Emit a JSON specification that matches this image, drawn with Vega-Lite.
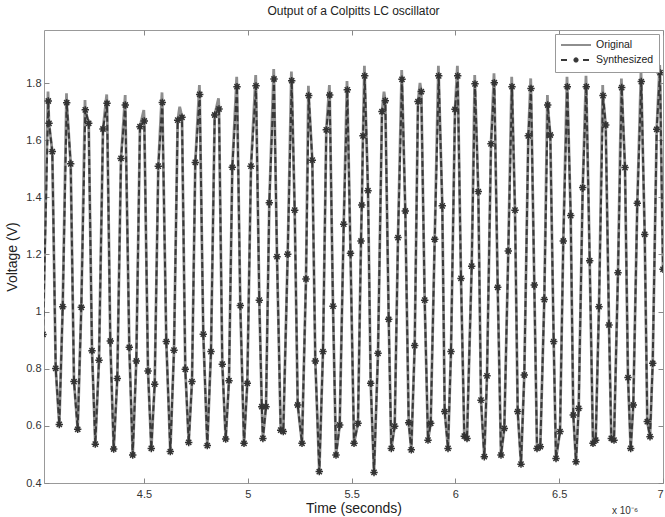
{
"$schema": "https://vega.github.io/schema/vega-lite/v6.json",
"width": 619, "height": 453,
"autosize": {"type": "none"},
"padding": {"left": 44, "top": 30, "right": 2, "bottom": 34},
"background": "white",
"title": {"text": "Output of a Colpitts LC oscillator", "fontSize": 12, "fontWeight": "normal", "color": "#222", "offset": 12, "font": "Liberation Sans"},
"config": {
 "view": {"stroke": "#999", "strokeWidth": 1},
 "font": "Liberation Sans",
 "axis": {"grid": false, "domain": false, "tickColor": "#888", "tickSize": -5, "tickWidth": 1, "labelFontSize": 11, "labelColor": "#333", "labelFont": "Liberation Sans", "titleFont": "Liberation Sans", "titleFontSize": 14, "titleFontWeight": "normal", "titleColor": "#222"}
},
"datasets": {
"synth": [
{"t":4.0135,"v":0.92},{"t":4.0390,"v":1.737},{"t":4.0424,"v":1.659},{"t":4.0583,"v":1.560},{"t":4.0747,"v":0.801},{"t":4.0920,"v":0.605},{"t":4.1084,"v":1.017},{"t":4.1277,"v":1.731},{"t":4.1469,"v":1.517},{"t":4.1628,"v":0.755},{"t":4.1806,"v":0.588},{"t":4.1980,"v":1.015},{"t":4.2172,"v":1.706},{"t":4.2336,"v":1.659},{"t":4.2495,"v":0.863},{"t":4.2654,"v":0.536},{"t":4.2832,"v":0.830},{"t":4.3025,"v":1.639},{"t":4.3218,"v":1.729},{"t":4.3377,"v":0.897},{"t":4.3540,"v":0.519},{"t":4.3714,"v":0.766},{"t":4.3892,"v":1.536},{"t":4.4099,"v":1.723},{"t":4.4292,"v":0.875},{"t":4.4456,"v":0.498},{"t":4.4629,"v":0.827},{"t":4.4807,"v":1.647},{"t":4.5014,"v":1.667},{"t":4.5193,"v":0.792},{"t":4.5352,"v":0.521},{"t":4.5515,"v":0.746},{"t":4.5689,"v":1.509},{"t":4.5882,"v":1.732},{"t":4.6074,"v":0.895},{"t":4.6267,"v":0.510},{"t":4.6445,"v":0.865},{"t":4.6623,"v":1.670},{"t":4.6830,"v":1.680},{"t":4.6989,"v":0.798},{"t":4.7153,"v":0.542},{"t":4.7312,"v":0.755},{"t":4.7471,"v":1.522},{"t":4.7683,"v":1.760},{"t":4.7856,"v":0.921},{"t":4.8049,"v":0.531},{"t":4.8227,"v":0.860},{"t":4.8406,"v":1.688},{"t":4.8613,"v":1.709},{"t":4.8772,"v":0.816},{"t":4.8935,"v":0.554},{"t":4.9094,"v":0.758},{"t":4.9253,"v":1.505},{"t":4.9480,"v":1.787},{"t":4.9639,"v":1.021},{"t":4.9817,"v":0.539},{"t":4.9976,"v":0.749},{"t":5.0154,"v":1.509},{"t":5.0395,"v":1.790},{"t":5.0554,"v":1.040},{"t":5.0674,"v":0.667},{"t":5.0727,"v":0.556},{"t":5.0877,"v":0.667},{"t":5.1036,"v":1.381},{"t":5.1262,"v":1.814},{"t":5.1407,"v":1.192},{"t":5.1585,"v":0.585},{"t":5.1710,"v":0.580},{"t":5.1922,"v":1.201},{"t":5.2115,"v":1.808},{"t":5.2259,"v":1.355},{"t":5.2404,"v":0.673},{"t":5.2611,"v":0.539},{"t":5.2803,"v":1.114},{"t":5.2934,"v":1.756},{"t":5.3107,"v":1.530},{"t":5.3252,"v":0.827},{"t":5.3444,"v":0.440},{"t":5.3622,"v":0.860},{"t":5.3781,"v":1.636},{"t":5.3945,"v":1.758},{"t":5.4104,"v":1.019},{"t":5.4249,"v":0.498},{"t":5.4427,"v":0.603},{"t":5.4620,"v":1.306},{"t":5.4793,"v":1.776},{"t":5.4947,"v":1.204},{"t":5.5116,"v":0.539},{"t":5.5308,"v":0.609},{"t":5.5453,"v":1.247},{"t":5.5491,"v":1.373},{"t":5.5549,"v":1.615},{"t":5.5631,"v":1.825},{"t":5.5790,"v":1.423},{"t":5.5920,"v":0.749},{"t":5.6079,"v":0.437},{"t":5.6272,"v":0.854},{"t":5.6464,"v":1.700},{"t":5.6623,"v":1.738},{"t":5.6787,"v":0.973},{"t":5.6912,"v":0.521},{"t":5.7076,"v":0.599},{"t":5.7235,"v":1.259},{"t":5.7428,"v":1.813},{"t":5.7587,"v":1.352},{"t":5.7750,"v":0.611},{"t":5.7876,"v":0.516},{"t":5.8039,"v":0.881},{"t":5.8198,"v":1.735},{"t":5.8357,"v":1.770},{"t":5.8521,"v":1.040},{"t":5.8680,"v":0.550},{"t":5.8810,"v":0.609},{"t":5.9003,"v":1.253},{"t":5.9196,"v":1.825},{"t":5.9369,"v":1.370},{"t":5.9485,"v":0.650},{"t":5.9644,"v":0.521},{"t":5.9788,"v":0.860},{"t":5.9981,"v":1.708},{"t":6.0111,"v":1.825},{"t":6.0270,"v":1.116},{"t":6.0429,"v":0.564},{"t":6.0559,"v":0.556},{"t":6.0785,"v":1.159},{"t":6.0944,"v":1.797},{"t":6.1103,"v":1.420},{"t":6.1233,"v":0.690},{"t":6.1392,"v":0.492},{"t":6.1522,"v":0.775},{"t":6.1715,"v":1.587},{"t":6.1874,"v":1.801},{"t":6.2038,"v":1.085},{"t":6.2197,"v":0.498},{"t":6.2356,"v":0.591},{"t":6.2548,"v":1.212},{"t":6.2726,"v":1.787},{"t":6.2871,"v":1.355},{"t":6.3001,"v":0.650},{"t":6.3160,"v":0.466},{"t":6.3319,"v":0.778},{"t":6.3512,"v":1.615},{"t":6.3642,"v":1.781},{"t":6.3801,"v":1.093},{"t":6.3931,"v":0.521},{"t":6.4090,"v":0.527},{"t":6.4282,"v":1.042},{"t":6.4446,"v":1.723},{"t":6.4571,"v":1.618},{"t":6.4735,"v":0.895},{"t":6.4846,"v":0.486},{"t":6.5039,"v":0.580},{"t":6.5197,"v":1.247},{"t":6.5390,"v":1.787},{"t":6.5554,"v":1.336},{"t":6.5679,"v":0.638},{"t":6.5809,"v":0.474},{"t":6.5939,"v":0.661},{"t":6.6132,"v":1.434},{"t":6.6305,"v":1.787},{"t":6.6469,"v":1.178},{"t":6.6628,"v":0.539},{"t":6.6758,"v":0.550},{"t":6.6917,"v":1.017},{"t":6.7110,"v":1.756},{"t":6.7240,"v":1.653},{"t":6.7399,"v":0.953},{"t":6.7510,"v":0.556},{"t":6.7640,"v":0.550},{"t":6.7832,"v":1.136},{"t":6.8011,"v":1.784},{"t":6.8170,"v":1.504},{"t":6.8314,"v":0.769},{"t":6.8444,"v":0.521},{"t":6.8569,"v":0.673},{"t":6.8762,"v":1.379},{"t":6.8955,"v":1.805},{"t":6.9119,"v":1.270},{"t":6.9244,"v":0.615},{"t":6.9374,"v":0.562},{"t":6.9504,"v":0.819},{"t":6.9697,"v":1.638},{"t":6.9855,"v":1.836},{"t":7.0000,"v":1.148}
],
"orig": [
{"t":4.0135,"v":0.92},{"t":4.0390,"v":1.737},{"t":4.0424,"v":1.659},{"t":4.0583,"v":1.560},{"t":4.0747,"v":0.801},{"t":4.0920,"v":0.605},{"t":4.1084,"v":1.017},{"t":4.1277,"v":1.731},{"t":4.1469,"v":1.517},{"t":4.1628,"v":0.755},{"t":4.1806,"v":0.588},{"t":4.1980,"v":1.015},{"t":4.2172,"v":1.706},{"t":4.2336,"v":1.659},{"t":4.2495,"v":0.863},{"t":4.2654,"v":0.536},{"t":4.2832,"v":0.830},{"t":4.3025,"v":1.639},{"t":4.3218,"v":1.729},{"t":4.3377,"v":0.897},{"t":4.3540,"v":0.519},{"t":4.3714,"v":0.766},{"t":4.3892,"v":1.536},{"t":4.4099,"v":1.723},{"t":4.4292,"v":0.875},{"t":4.4456,"v":0.498},{"t":4.4629,"v":0.827},{"t":4.4807,"v":1.647},{"t":4.5014,"v":1.667},{"t":4.5193,"v":0.792},{"t":4.5352,"v":0.521},{"t":4.5515,"v":0.746},{"t":4.5689,"v":1.509},{"t":4.5882,"v":1.732},{"t":4.6074,"v":0.895},{"t":4.6267,"v":0.510},{"t":4.6445,"v":0.865},{"t":4.6623,"v":1.670},{"t":4.6830,"v":1.680},{"t":4.6989,"v":0.798},{"t":4.7153,"v":0.542},{"t":4.7312,"v":0.755},{"t":4.7471,"v":1.522},{"t":4.7683,"v":1.760},{"t":4.7856,"v":0.921},{"t":4.8049,"v":0.531},{"t":4.8227,"v":0.860},{"t":4.8406,"v":1.688},{"t":4.8613,"v":1.709},{"t":4.8772,"v":0.816},{"t":4.8935,"v":0.554},{"t":4.9094,"v":0.758},{"t":4.9253,"v":1.505},{"t":4.9480,"v":1.787},{"t":4.9639,"v":1.021},{"t":4.9817,"v":0.539},{"t":4.9976,"v":0.749},{"t":5.0154,"v":1.509},{"t":5.0395,"v":1.790},{"t":5.0554,"v":1.040},{"t":5.0674,"v":0.667},{"t":5.0727,"v":0.556},{"t":5.0877,"v":0.667},{"t":5.1036,"v":1.381},{"t":5.1262,"v":1.814},{"t":5.1407,"v":1.192},{"t":5.1585,"v":0.585},{"t":5.1710,"v":0.580},{"t":5.1922,"v":1.201},{"t":5.2115,"v":1.808},{"t":5.2259,"v":1.355},{"t":5.2404,"v":0.673},{"t":5.2611,"v":0.539},{"t":5.2803,"v":1.114},{"t":5.2934,"v":1.756},{"t":5.3107,"v":1.530},{"t":5.3252,"v":0.827},{"t":5.3444,"v":0.440},{"t":5.3622,"v":0.860},{"t":5.3781,"v":1.636},{"t":5.3945,"v":1.758},{"t":5.4104,"v":1.019},{"t":5.4249,"v":0.498},{"t":5.4427,"v":0.603},{"t":5.4620,"v":1.306},{"t":5.4793,"v":1.776},{"t":5.4947,"v":1.204},{"t":5.5116,"v":0.539},{"t":5.5308,"v":0.609},{"t":5.5453,"v":1.247},{"t":5.5491,"v":1.373},{"t":5.5549,"v":1.615},{"t":5.5631,"v":1.825},{"t":5.5790,"v":1.423},{"t":5.5920,"v":0.749},{"t":5.6079,"v":0.437},{"t":5.6272,"v":0.854},{"t":5.6464,"v":1.700},{"t":5.6623,"v":1.738},{"t":5.6787,"v":0.973},{"t":5.6912,"v":0.521},{"t":5.7076,"v":0.599},{"t":5.7235,"v":1.259},{"t":5.7428,"v":1.813},{"t":5.7587,"v":1.352},{"t":5.7750,"v":0.611},{"t":5.7876,"v":0.516},{"t":5.8039,"v":0.881},{"t":5.8198,"v":1.735},{"t":5.8357,"v":1.770},{"t":5.8521,"v":1.040},{"t":5.8680,"v":0.550},{"t":5.8810,"v":0.609},{"t":5.9003,"v":1.253},{"t":5.9196,"v":1.825},{"t":5.9369,"v":1.370},{"t":5.9485,"v":0.650},{"t":5.9644,"v":0.521},{"t":5.9788,"v":0.860},{"t":5.9981,"v":1.708},{"t":6.0111,"v":1.825},{"t":6.0270,"v":1.116},{"t":6.0429,"v":0.564},{"t":6.0559,"v":0.556},{"t":6.0785,"v":1.159},{"t":6.0944,"v":1.797},{"t":6.1103,"v":1.420},{"t":6.1233,"v":0.690},{"t":6.1392,"v":0.492},{"t":6.1522,"v":0.775},{"t":6.1715,"v":1.587},{"t":6.1874,"v":1.801},{"t":6.2038,"v":1.085},{"t":6.2197,"v":0.498},{"t":6.2356,"v":0.591},{"t":6.2548,"v":1.212},{"t":6.2726,"v":1.787},{"t":6.2871,"v":1.355},{"t":6.3001,"v":0.650},{"t":6.3160,"v":0.466},{"t":6.3319,"v":0.778},{"t":6.3512,"v":1.615},{"t":6.3642,"v":1.781},{"t":6.3801,"v":1.093},{"t":6.3931,"v":0.521},{"t":6.4090,"v":0.527},{"t":6.4282,"v":1.042},{"t":6.4446,"v":1.723},{"t":6.4571,"v":1.618},{"t":6.4735,"v":0.895},{"t":6.4846,"v":0.486},{"t":6.5039,"v":0.580},{"t":6.5197,"v":1.247},{"t":6.5390,"v":1.787},{"t":6.5554,"v":1.336},{"t":6.5679,"v":0.638},{"t":6.5809,"v":0.474},{"t":6.5939,"v":0.661},{"t":6.6132,"v":1.434},{"t":6.6305,"v":1.787},{"t":6.6469,"v":1.178},{"t":6.6628,"v":0.539},{"t":6.6758,"v":0.550},{"t":6.6917,"v":1.017},{"t":6.7110,"v":1.756},{"t":6.7240,"v":1.653},{"t":6.7399,"v":0.953},{"t":6.7510,"v":0.556},{"t":6.7640,"v":0.550},{"t":6.7832,"v":1.136},{"t":6.8011,"v":1.784},{"t":6.8170,"v":1.504},{"t":6.8314,"v":0.769},{"t":6.8444,"v":0.521},{"t":6.8569,"v":0.673},{"t":6.8762,"v":1.379},{"t":6.8955,"v":1.805},{"t":6.9119,"v":1.270},{"t":6.9244,"v":0.615},{"t":6.9374,"v":0.562},{"t":6.9504,"v":0.819},{"t":6.9697,"v":1.638},{"t":6.9855,"v":1.836},{"t":7.0000,"v":1.148},
{"t":4.0376,"v":1.770},{"t":4.1267,"v":1.764},{"t":4.2158,"v":1.740},{"t":4.3203,"v":1.760},{"t":4.4095,"v":1.758},{"t":4.4990,"v":1.705},{"t":4.5867,"v":1.767},{"t":4.6720,"v":1.717},{"t":4.7669,"v":1.793},{"t":4.8589,"v":1.746},{"t":4.9465,"v":1.822},{"t":5.0381,"v":1.828},{"t":5.1248,"v":1.849},{"t":5.2100,"v":1.840},{"t":5.2919,"v":1.790},{"t":5.3931,"v":1.793},{"t":5.4778,"v":1.807},{"t":5.5617,"v":1.860},{"t":5.6561,"v":1.770},{"t":5.7413,"v":1.845},{"t":5.8295,"v":1.800},{"t":5.9181,"v":1.860},{"t":6.0096,"v":1.860},{"t":6.0930,"v":1.828},{"t":6.1859,"v":1.834},{"t":6.2712,"v":1.822},{"t":6.3627,"v":1.816},{"t":6.4432,"v":1.758},{"t":6.5376,"v":1.822},{"t":6.6291,"v":1.825},{"t":6.7095,"v":1.793},{"t":6.7996,"v":1.816},{"t":6.8940,"v":1.840},{"t":6.9841,"v":1.863}
]
},
"layer": [
 {"data": {"name": "orig"},
  "mark": {"type": "line", "clip": true, "strokeWidth": 2.8, "strokeJoin": "miter"},
  "encoding": {
   "x": {"field": "t", "type": "quantitative", "scale": {"domain": [4.0183, 7.0], "nice": false, "zero": false},
         "axis": {"orient": "bottom", "values": [4.5,5,5.5,6,6.5,7], "format": "~g", "title": "Time (seconds)", "labelPadding": 10, "titlePadding": 2}},
   "y": {"field": "v", "type": "quantitative", "scale": {"domain": [0.4, 1.9855], "nice": false, "zero": false},
         "axis": {"orient": "left", "values": [0.4,0.6,0.8,1,1.2,1.4,1.6,1.8], "format": "~g", "title": "Voltage (V)", "labelPadding": 8, "titlePadding": 6}},
   "color": {"datum": "Original", "scale": {"domain": ["Original", "Synthesized"], "range": ["#8e8e8e", "#383838"]},
             "legend": {"title": null, "orient": "top-right", "offset": 4, "fillColor": "white", "strokeColor": "#999", "padding": 5,
                        "symbolSize": 100, "symbolStrokeWidth": 2, "labelFontSize": 10.5, "labelColor": "#222", "labelFont": "Liberation Sans", "rowPadding": 2, "labelOffset": 24,
                        "encode": {"symbols": {"update": {
                          "shape": {"signal": "datum.value === 'Synthesized' ? 'M-1,0L0.6,0M3.4,0L5,0M1.5,0L2.5,0M2,-0.5L2,0.5M1.65,-0.35L2.35,0.35M1.65,0.35L2.35,-0.35' : 'M-1,0L5,0'"},
                          "strokeDash": {"value": [1, 0]},
                          "fill": {"value": "transparent"}
                        }}}}},
   "strokeDash": {"datum": "Original", "scale": {"domain": ["Original", "Synthesized"], "range": [[1, 0], [6, 3]]}}
  }},
 {"data": {"name": "synth"},
  "mark": {"type": "line", "clip": true, "strokeWidth": 2},
  "encoding": {
   "x": {"field": "t", "type": "quantitative", "axis": null},
   "y": {"field": "v", "type": "quantitative", "axis": null},
   "color": {"datum": "Synthesized"},
   "strokeDash": {"datum": "Synthesized"}
  }},
 {"data": {"name": "synth"},
  "mark": {"type": "point", "clip": true, "shape": "M-1,0L1,0M0,-1L0,1M-0.7,-0.7L0.7,0.7M-0.7,0.7L0.7,-0.7", "size": 55, "filled": false, "stroke": "#333", "strokeWidth": 1.5, "opacity": 1},
  "encoding": {
   "x": {"field": "t", "type": "quantitative", "axis": {"orient": "top", "values": [4.5,5,5.5,6,6.5,7], "labels": false, "title": null}},
   "y": {"field": "v", "type": "quantitative", "axis": {"orient": "right", "values": [0.4,0.6,0.8,1,1.2,1.4,1.6,1.8], "labels": false, "title": null}}
  }},
 {"data": {"values": [{}]},
  "mark": {"type": "text", "text": "x 10⁻⁶", "align": "left", "baseline": "alphabetic", "dx": -51, "dy": 31, "fontSize": 10, "color": "#333", "font": "Liberation Sans"},
  "encoding": {
   "x": {"datum": 7, "axis": null},
   "y": {"datum": 0.4, "axis": null}
  }}
]
}
